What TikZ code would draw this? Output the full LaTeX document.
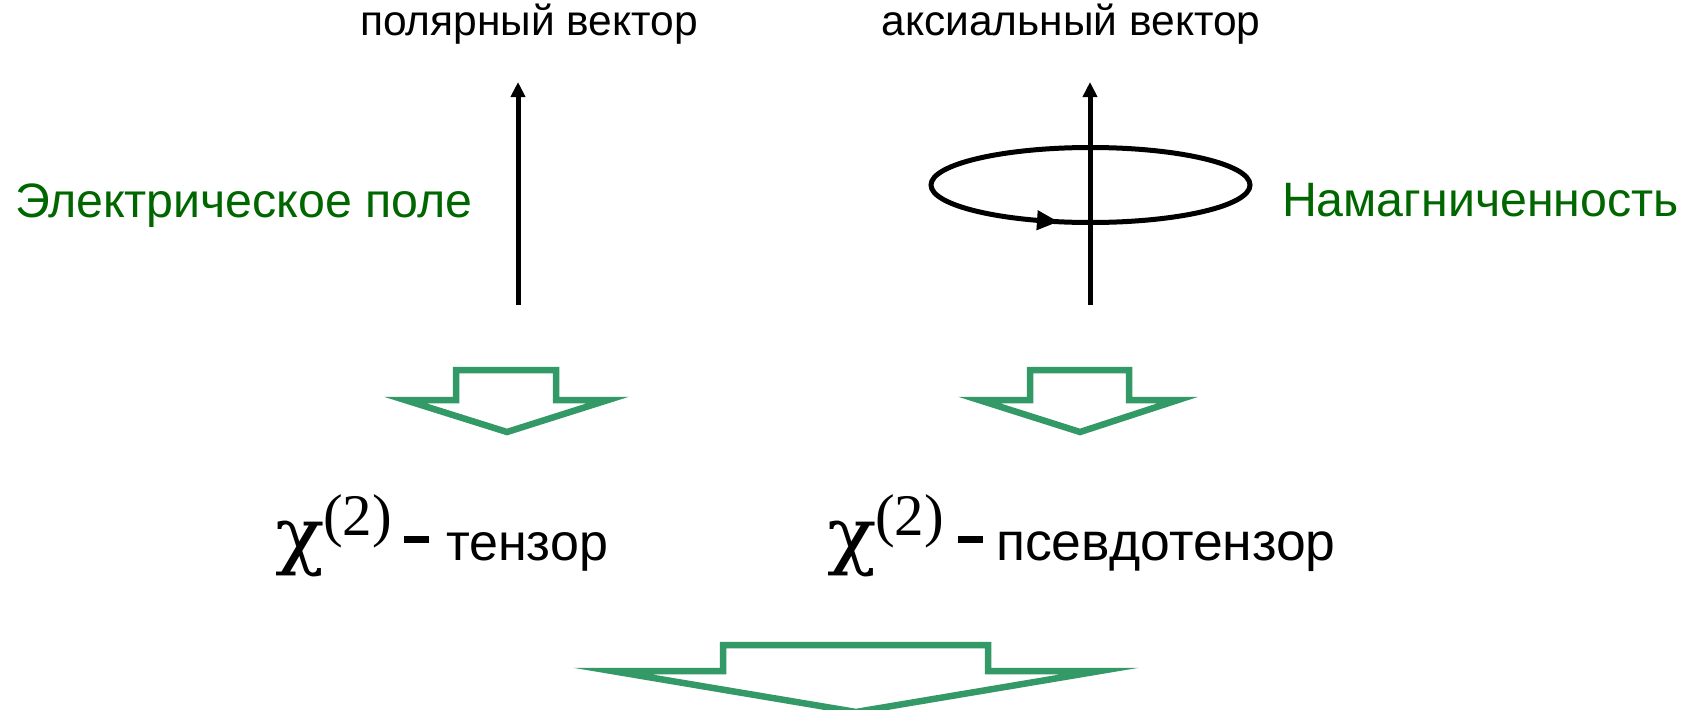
\documentclass[tikz,border=0pt]{standalone}
\usepackage{fontspec}
\usepackage{graphicx}
\setmainfont{Liberation Sans}
\newfontfamily\sansf{Liberation Sans}
\newfontfamily\seriff{Liberation Serif}
\newfontfamily\greekf{DejaVu Serif}
\usetikzlibrary{arrows.meta}
\definecolor{txtgreen}{RGB}{0,102,0}
\definecolor{arrgreen}{RGB}{51,153,102}
\begin{document}
\begin{tikzpicture}[x=1pt,y=-1pt,
  lbl/.style={inner sep=0pt,outer sep=0pt},
  toplbl/.style={lbl,anchor=base,font=\sansf\fontsize{42.5}{42.5}\selectfont},
  fieldlbl/.style={lbl,anchor=base west,text=txtgreen,font=\sansf\fontsize{48.3}{48.3}\selectfont},
  chisym/.style={lbl,anchor=base west,font=\greekf\fontsize{74}{74}\selectfont},
  chisup/.style={lbl,anchor=base west,font=\seriff\fontsize{59}{59}\selectfont},
  chidash/.style={lbl,anchor=base west},
  chiword/.style={lbl,anchor=base west,font=\sansf\fontsize{52}{52}\selectfont},
  vec/.style={line width=5pt,-{Triangle[length=15pt,width=14pt]}},
  loop/.style={line width=5pt},
  blockarrow/.style={draw=arrgreen,line width=6.5pt,line join=miter,miter limit=30,fill=white}
]
\path[use as bounding box] (0,0) rectangle (1688,709);
\clip (0,0) rectangle (1688,709);

% top labels
\node[toplbl] (polar) at (529,36) {полярный вектор};
\node[toplbl] (axial) at (1071,36) {аксиальный вектор};

% side labels
\node[fieldlbl] (efield) at (15,217) {Электрическое поле};
\node[fieldlbl] (magn) at (1282,216) {Намагниченность};

% polar vector
\coordinate (pbot) at (518,305);
\coordinate (ptop) at (518,82);
\draw[vec] (pbot) -- (ptop);

% axial vector with loop
\coordinate (abot) at (1090,305);
\coordinate (atop) at (1090,82);
\draw[loop] (1090.5,185) ellipse [x radius=159.5, y radius=37.5];
\draw[vec] (abot) -- (atop);
\coordinate (lpA) at (1030,219.8);
\coordinate (lpB) at (1058,221.7);
\draw[line width=1pt,-{Triangle[length=21pt,width=20pt]}] (lpA) -- (lpB);

% small block arrows
\draw[blockarrow] (405,400) -- (456,400) -- (456,370) -- (556,370) -- (556,400) -- (608,400) -- (507,432) -- cycle;
\draw[blockarrow] (979,400) -- (1030,400) -- (1030,370) -- (1129,370) -- (1129,400) -- (1178,400) -- (1080,432) -- cycle;

% chi labels: tensor
\node[chisym] (chiT) at (275,560) {\scalebox{1.1}[1]{χ}};
\node[chisup] (supT) at (323,535) {(2)};
\node[chidash] (dashT) at (404,560) {\rule[17pt]{25pt}{7pt}};
\node[chiword] (wordT) at (446,560) {тензор};

% chi labels: pseudotensor
\node[chisym] (chiP) at (827,560) {\scalebox{1.1}[1]{χ}};
\node[chisup] (supP) at (875,535) {(2)};
\node[chidash] (dashP) at (958,560) {\rule[17pt]{25pt}{7pt}};
\node[chiword,font=\sansf\fontsize{53.5}{53.5}\selectfont] (wordP) at (996,560) {псевдотензор};

% big block arrow
\draw[blockarrow] (612,671) -- (723,671) -- (723,645) -- (988,645) -- (988,671) -- (1100,671) -- (856,712) -- cycle;
\end{tikzpicture}
\end{document}
